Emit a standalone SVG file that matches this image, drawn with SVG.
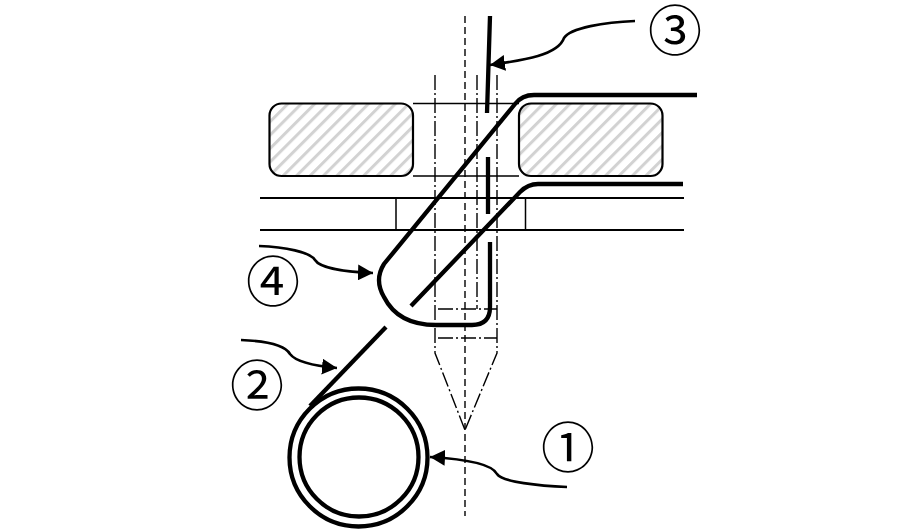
<svg xmlns="http://www.w3.org/2000/svg" width="921" height="531" viewBox="0 0 921 531">
<style>
.thin{fill:none;stroke:#000;stroke-width:1.5}
.med{fill:none;stroke:#000;stroke-width:2}
.thick{fill:none;stroke:#000;stroke-width:4.3}
.lead{fill:none;stroke:#000;stroke-width:2.6;marker-end:url(#arr)}
.dd{fill:none;stroke:#000;stroke-width:1.4;stroke-dasharray:15 3 2 3}
.dash{fill:none;stroke:#000;stroke-width:1.4;stroke-dasharray:7 4}
.block{fill:url(#hatch);stroke:#000;stroke-width:2.2}
.num{font-family:"DejaVu Serif","Noto Sans CJK SC",serif;font-size:54px;text-anchor:middle;fill:#000}
</style>
<defs>
<pattern id="hatch" width="9.5" height="9.5" patternUnits="userSpaceOnUse" patternTransform="rotate(45)">
<rect width="9.5" height="9.5" fill="#fff"/>
<rect x="0" width="3" height="9.5" fill="#d2d2d2"/>
</pattern>
<marker id="arr" markerUnits="userSpaceOnUse" markerWidth="17" markerHeight="16" refX="15" refY="8" orient="auto">
<path d="M0 0L15 8L0 16Z" fill="#000"/>
</marker>
</defs>
<rect width="921" height="531" fill="#fff"/>
<g id="block-left"><rect class="block" x="269.500" y="103.500" width="143.500" height="72.500" rx="12"/></g>
<g id="block-right"><rect class="block" x="519" y="103.500" width="143.500" height="72.500" rx="12"/></g>
<g id="plate">
<path class="thin" d="M413 103.500H519M413 176H519"/>
<path class="med" d="M260 198H684M260 230H684"/>
<path class="thin" d="M396 198V230M525.500 198V230"/>
</g>
<g id="axes">
<path class="dash" d="M465 16V516"/>
<path class="dd" d="M435 75V353L465 430M497 75V353L465 430M477 75V309M438 309H497M438 338H497"/>
</g>
<g id="connectors">
<path class="thick" d="M697 95H534Q522 95 515 104L384 264Q374 280 384 297Q398 325 436 325H472Q490 325 490 307V242"/>
<path class="thick" d="M683 184H538Q528 184 520 192L411 306"/>
<path class="thick" d="M490 16L487 113M488 157V214"/>
<path class="thick" d="M386 327L310 406"/>
<path class="lead" d="M635 21C605 22 570 28 564 38C558 55 525 60 490 65"/>
<path class="lead" d="M259 246C285 247 310 252 315 260C320 268 345 272 373 273"/>
<path class="lead" d="M241 340C265 341 285 345 290 354C296 362 315 366 337 368"/>
<path class="lead" d="M567 487C540 486 502 482 497 474C492 464 465 459 430 457"/>
</g>
<g id="coil">
<circle class="thick" cx="358.500" cy="457.500" r="69"/>
<circle class="thick" cx="359" cy="457" r="59.500"/>
</g>
<g id="label-1"><text class="num" x="568" y="468">①</text></g>
<g id="label-2"><text class="num" x="257" y="406">②</text></g>
<g id="label-3"><text class="num" x="675" y="51">③</text></g>
<g id="label-4"><text class="num" x="273" y="302">④</text></g>
</svg>
